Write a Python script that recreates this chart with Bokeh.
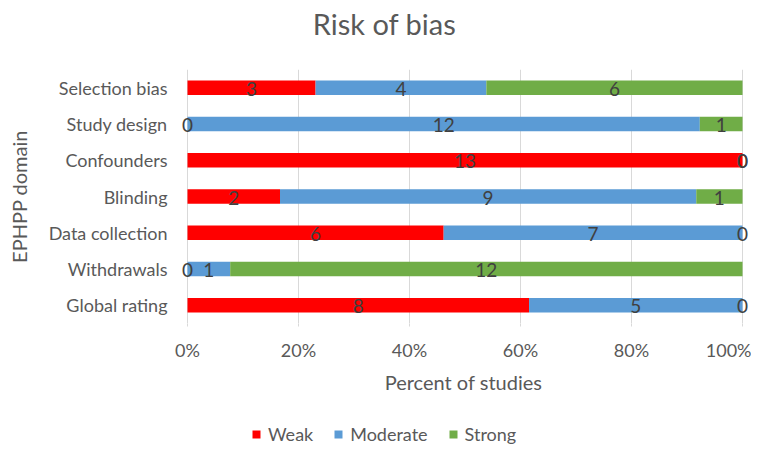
import numpy as np
from bokeh.plotting import figure
from bokeh.layouts import column
from bokeh.models import (FactorRange, Range1d, NumeralTickFormatter, FixedTicker,
                          Legend, LegendItem, ColumnDataSource)
from bokeh.core.properties import value
from bokeh.embed import file_html
from bokeh.resources import INLINE

title = "Risk of bias"
categories = ["Selection bias", "Study design", "Confounders", "Blinding",
              "Data collection", "Withdrawals", "Global rating"]
levels = ["Weak", "Moderate", "Strong"]
weak = [3, 0, 13, 2, 6, 0, 8]
moderate = [4, 12, 0, 9, 7, 1, 5]
strong = [6, 1, 0, 1, 0, 12, 0]
x_ticks = [0, 0.2, 0.4, 0.6, 0.8, 1.0]

colors = ["#FF0000", "#5B9BD5", "#70AD47"]
FONT = "Lato"
GREY = "#595959"

counts = {"Weak": np.array(weak), "Moderate": np.array(moderate), "Strong": np.array(strong)}
totals = counts["Weak"] + counts["Moderate"] + counts["Strong"]
frac = {k: v / totals for k, v in counts.items()}

src = ColumnDataSource(dict(cat=categories, **frac))

# shared x range: 0..1 spans 555 px, with a little room so the "0" labels are not clipped
x_range = Range1d(-10 / 555, 1 + 7 / 555)

# ---- title strip ----
tf = figure(width=751, height=60, x_range=x_range, y_range=Range1d(0, 60),
            x_axis_type=None, y_axis_type=None, output_backend="svg", toolbar_location=None,
            min_border_left=0, min_border_right=0, min_border_top=0, min_border_bottom=0)
tf.outline_line_color = None
tf.grid.visible = False
tf.text(x=[0.355], y=[37], text=[title], text_align="center", text_baseline="alphabetic",
        text_font=value(FONT), text_font_size="29px", text_color=GREY)

# ---- main chart ----
p = figure(frame_width=572, frame_height=254,
           y_range=FactorRange(factors=list(reversed(categories)), range_padding=0),
           x_range=x_range,
           output_backend="svg", toolbar_location=None,
           min_border_left=177, min_border_right=2,
           min_border_top=9, min_border_bottom=80)

rs = p.hbar_stack(levels, y="cat", height=0.4, color=colors, source=src, line_color=None)

# data labels (counts) centred in each segment
lx, ly, lt = [], [], []
left = np.zeros(len(categories))
for k in levels:
    centre = left + frac[k] / 2
    lx += list(centre)
    ly += categories
    lt += [str(v) for v in counts[k]]
    left = left + frac[k]
lsrc = ColumnDataSource(dict(x=lx, y=ly, t=lt))
p.text(x="x", y="y", text="t", source=lsrc, text_align="center", text_baseline="middle",
       text_font=value(FONT), text_font_size="19px", text_color="#404040", y_offset=1)

xa = p.xaxis[0]
xa.ticker = FixedTicker(ticks=x_ticks)
xa.formatter = NumeralTickFormatter(format="0%")
xa.axis_line_color = None
xa.major_tick_in = 0
xa.major_tick_out = 3
xa.major_tick_line_color = "#D9D9D9"
xa.minor_tick_line_color = None
xa.major_label_standoff = 12
xa.major_label_text_font = FONT
xa.major_label_text_font_size = "18px"
xa.major_label_text_color = GREY
xa.axis_label = "Percent of studies"
xa.axis_label_text_font = FONT
xa.axis_label_text_font_size = "20px"
xa.axis_label_text_font_style = "normal"
xa.axis_label_text_color = GREY
xa.axis_label_standoff = 6

ya = p.yaxis[0]
ya.axis_line_color = None
ya.major_tick_line_color = None
ya.minor_tick_line_color = None
ya.major_label_standoff = 4
ya.major_label_text_font = FONT
ya.major_label_text_font_size = "18px"
ya.major_label_text_color = GREY
ya.axis_label = "EPHPP domain"
ya.axis_label_text_font = FONT
ya.axis_label_text_font_size = "20px"
ya.axis_label_text_font_style = "normal"
ya.axis_label_text_color = GREY
ya.axis_label_standoff = 15

p.xgrid.grid_line_color = "#D9D9D9"
p.ygrid.grid_line_color = None
p.outline_line_color = None

# ---- legend strip ----
lf = figure(width=751, height=44, x_range=x_range, y_range=Range1d(0, 1),
            x_axis_type=None, y_axis_type=None,
            output_backend="svg", toolbar_location=None,
            min_border_left=0, min_border_right=0, min_border_top=0, min_border_bottom=0)
lf.outline_line_color = None
lf.grid.visible = False
dummy = [lf.hbar(y=[np.nan], right=[np.nan], height=1, color=c, line_color=None) for c in colors]
legend = Legend(items=[LegendItem(label=k, renderers=[r]) for k, r in zip(levels, dummy)],
                orientation="horizontal", location=(74, 2),
                padding=0, margin=0, spacing=20, label_standoff=7,
                glyph_width=10, glyph_height=10,
                label_text_font=FONT, label_text_font_size="18px", label_text_color=GREY,
                border_line_color=None, background_fill_alpha=0)
lf.add_layout(legend, "center")

layout = column(tf, p, lf, spacing=0)
open("out.html", "w").write(file_html(layout, INLINE))
